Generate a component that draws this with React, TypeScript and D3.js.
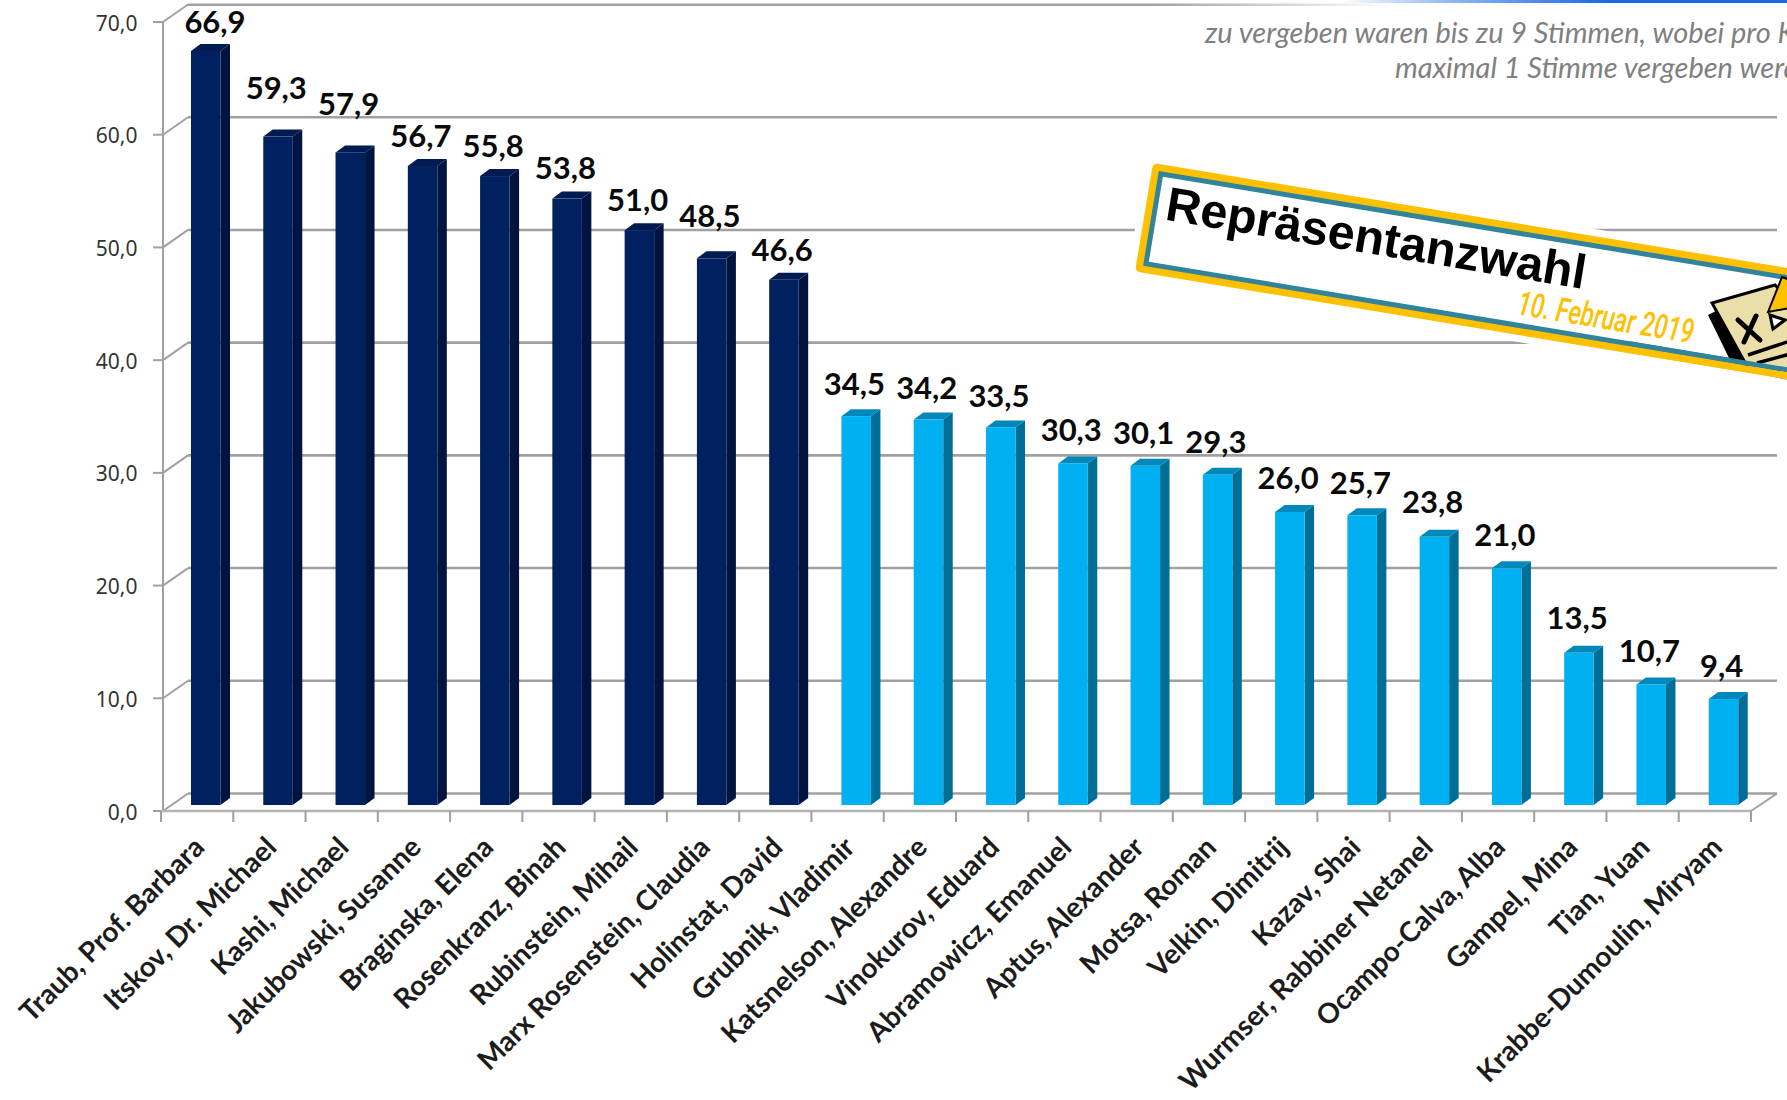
import React from "react";
import * as d3 from "d3";

const names = [
  "Traub, Prof. Barbara","Itskov, Dr. Michael","Kashi, Michael","Jakubowski, Susanne","Braginska, Elena","Rosenkranz, Binah","Rubinstein, Mihail","Marx Rosenstein, Claudia","Holinstat, David",
  "Grubnik, Vladimir","Katsnelson, Alexandre","Vinokurov, Eduard","Abramowicz, Emanuel","Aptus, Alexander","Motsa, Roman","Velkin, Dimitrij","Kazav, Shai","Wurmser, Rabbiner Netanel","Ocampo-Calva, Alba","Gampel, Mina","Tian, Yuan","Krabbe-Dumoulin, Miryam",
];
const values = [66.9,59.3,57.9,56.7,55.8,53.8,51.0,48.5,46.6,34.5,34.2,33.5,30.3,30.1,29.3,26.0,25.7,23.8,21.0,13.5,10.7,9.4];
const elected = 9;
const yTicks = [0,10,20,30,40,50,60,70];
const labelLift = [11,31,30,12,12,13,12,24,12,14,14,13,15,15,15,16,14,17,15,17,15,15];
const note = ["zu vergeben waren bis zu 9 Stimmen, wobei pro Kandidat","maximal 1 Stimme vergeben werden konnte"];
const title = "Repräsentanzwahl";
const dateText = "10. Februar 2019";

const fmt = (v: number) => v.toFixed(1).replace(".", ",");

const navy = { front: "#002060", side: "#00143f", top: "#001a52" };
const sky = { front: "#00B0F0", side: "#006f98", top: "#0088ba" };

export default function App() {
  const x = d3.scaleBand<string>().domain(names).range([161, 1751]);
  const y = d3.scaleLinear().domain([0, 70]).range([811, 22]);
  const wall = { dx: 25, dy: 17.5 };
  const bar = { inset: 30, w: 29.5, dx: 9.5, dy: 7, lift: 6 };
  const line = "#a0a0a0";
  const rightEnd = 1777;
  const axisX = 163;
  return (
    <svg width={1787} height={1100} style={{ position: "absolute", left: 0, top: 0, background: "#fff" }}>
      <defs>
        <linearGradient id="topFade" x1="0" x2="1" y1="0" y2="0">
          <stop offset="0" stopColor="#ffffff" />
          <stop offset="0.25" stopColor="#8fb6f2" />
          <stop offset="0.6" stopColor="#1a66e6" />
          <stop offset="1" stopColor="#1a66e6" />
        </linearGradient>
        <linearGradient id="lineFade" x1="0" x2="1" y1="0" y2="0">
          <stop offset="0" stopColor="#a0a0a0" />
          <stop offset="0.8" stopColor="#a0a0a0" />
          <stop offset="1" stopColor="#ffffff" />
        </linearGradient>
      </defs>

      {/* walls */}
      {yTicks.map((t) => {
        const yy = y(t);
        const isTop = t === 70;
        return (
          <g key={t}>
            <line x1={153} x2={axisX} y1={yy} y2={yy} stroke={line} strokeWidth={2} />
            <line x1={axisX} x2={axisX + wall.dx} y1={yy} y2={yy - wall.dy} stroke={line} strokeWidth={2} />
            {isTop ? (
              <rect x={axisX + wall.dx} y={yy - wall.dy - 1} width={1390 - axisX - wall.dx} height={2.5} fill="url(#lineFade)" />
            ) : (
              <line x1={axisX + wall.dx} x2={rightEnd} y1={yy - wall.dy} y2={yy - wall.dy} stroke={line} strokeWidth={2.6} />
            )}
            <text x={137.5} y={yy + 8.5} textAnchor="end" fontFamily="'Noto Sans'" fontSize={21} fill="#333">{fmt(t)}</text>
          </g>
        );
      })}
      <rect x={1340} y={0} width={447} height={3} fill="url(#topFade)" />
      <line x1={axisX} x2={axisX} y1={y(70)} y2={y(0)} stroke={line} strokeWidth={2} />
      <line x1={161} x2={1751} y1={y(0)} y2={y(0)} stroke="#b4b4b4" strokeWidth={2.5} />
      <line x1={1751} x2={rightEnd} y1={y(0)} y2={y(0) - wall.dy} stroke={line} strokeWidth={2} />
      {[...names.map((n) => x(n)!), 1751].map((tx, i) => (
        <line key={i} x1={tx} x2={tx} y1={y(0)} y2={y(0) + 11} stroke={line} strokeWidth={2} />
      ))}

      {/* bars */}
      {names.map((n, i) => {
        const c = i < elected ? navy : sky;
        const x0 = x(n)! + bar.inset;
        const x1 = x0 + bar.w;
        const base = y(0) - bar.lift;
        const top = y(values[i]) - bar.lift;
        return (
          <g key={n}>
            <path d={`M${x1},${base}L${x1 + bar.dx},${base - bar.dy}L${x1 + bar.dx},${top - bar.dy}L${x1},${top}Z`} fill={c.side} />
            <path d={`M${x0},${top}L${x0 + bar.dx},${top - bar.dy}L${x1 + bar.dx},${top - bar.dy}L${x1},${top}Z`} fill={c.top} />
            <rect x={x0} y={top} width={bar.w} height={base - top} fill={c.front} />
            <text x={x0 + (i === 0 ? 24 : 13)} y={top - bar.dy - labelLift[i]} textAnchor="middle" fontFamily="Lato" fontWeight={700} fontSize={31} fill="#0a0a0a">{fmt(values[i])}</text>
          </g>
        );
      })}

      {/* category labels */}
      {names.map((n) => (
        <text key={n} transform={`translate(${x(n)! + 45},${849}) rotate(-45)`} textAnchor="end" fontFamily="Lato" fontWeight={700} fontSize={28} fill="#1c1c1c">{n}</text>
      ))}

      {/* note */}
      {note.map((t, i) => (
        <text key={t} x={i === 0 ? 1205 : 1395} y={42.5 + i * 35.5} fontFamily="Lato" fontStyle="italic" fontSize={29} fill="#808080">{t}</text>
      ))}

      {/* banner */}
      <g transform="translate(1153,163) rotate(9.4)">
        <rect x={-7} y={-7} width={900} height={124} fill="#fff" />
        <rect x={0} y={0} width={900} height={110} rx={5} fill="#FFC000" />
        <rect x={7} y={7} width={900} height={96} fill="#31849B" />
        <rect x={12} y={12} width={900} height={86} fill="#fff" />
        <text x={20} y={54} fontFamily="'Liberation Sans'" fontWeight={700} fontSize={48} fill="#000" textLength={425} lengthAdjust="spacingAndGlyphs">{title}</text>
        <text x={383} y={90} fontFamily="Roboto" fontStyle="italic" fontWeight={500} fontSize={34} fill="#FFC000" textLength={178} lengthAdjust="spacingAndGlyphs">{dateText}</text>
      </g>
      {/* ballot icon */}
      <g>
        <path d="M1708,315 L1722,308 L1750,366 L1730,360 Z" fill="#000" />
        <path d="M1712,303 L1775,285 L1790,300 L1790,380 L1748,368 Z" fill="#EADFA8" stroke="#000" strokeWidth={3} />
        <path d="M1738,320 L1760,340 M1756,316 L1744,342" stroke="#000" strokeWidth={5} strokeLinecap="round" fill="none" />
        <path d="M1748,355 L1790,341 M1757,363 L1790,354" stroke="#000" strokeWidth={3.5} fill="none" />
        <path d="M1768,312 L1782,277 L1790,280 L1790,308 Z" fill="#FFC000" stroke="#000" strokeWidth={2} />
        <path d="M1770,315 L1785,320 L1773,329 Z" fill="#fff" stroke="#000" strokeWidth={3} />
      </g>
      <g transform="translate(1153,163) rotate(9.4)">
        <rect x={500} y={98} width={400} height={5} fill="#31849B" />
        <rect x={500} y={103} width={400} height={7} fill="#FFC000" />
        <rect x={500} y={110} width={400} height={30} fill="#fff" />
      </g>
    </svg>
  );
}
